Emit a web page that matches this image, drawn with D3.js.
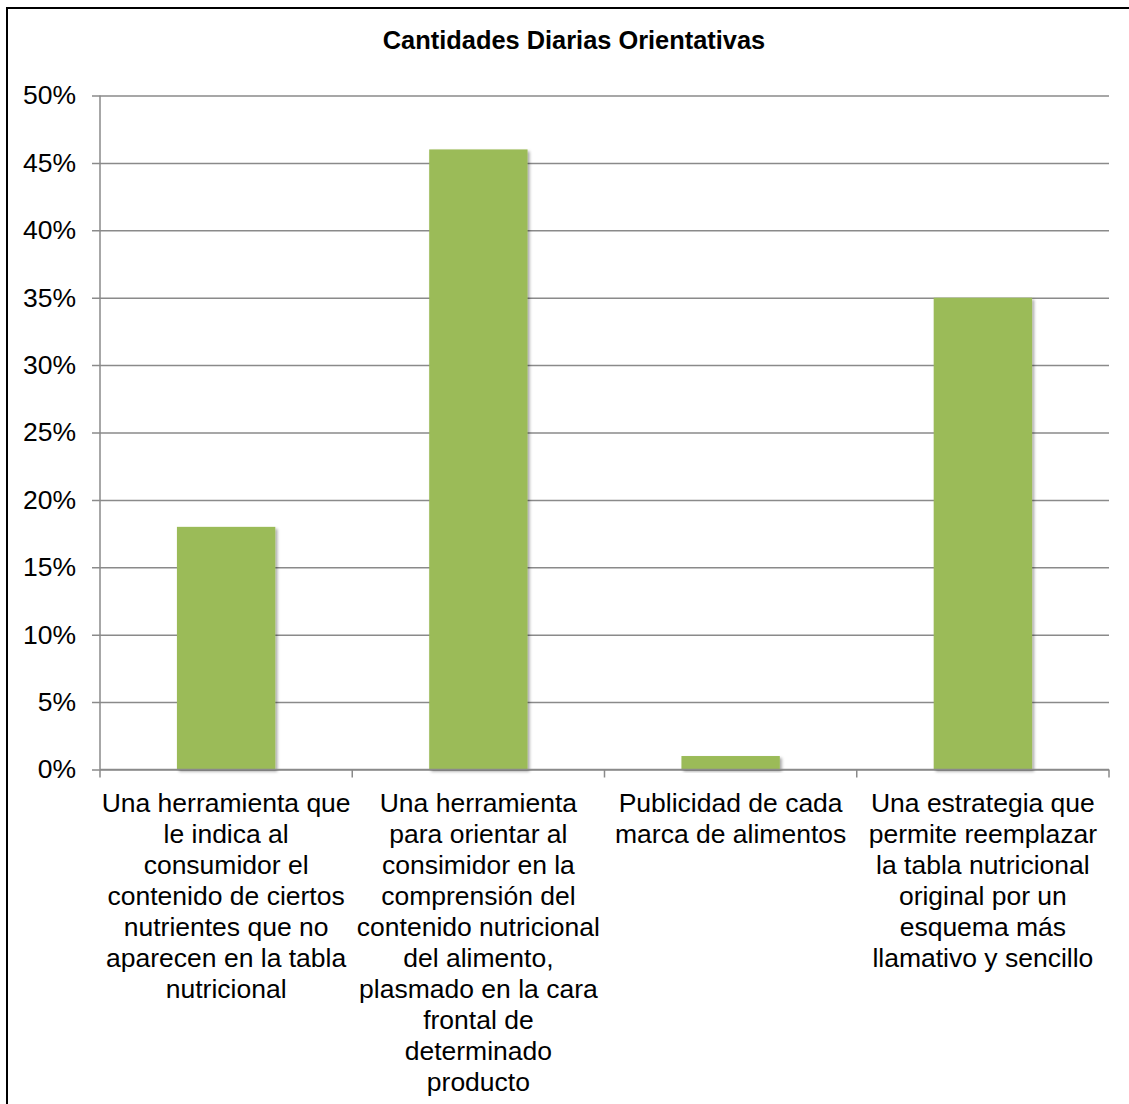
<!DOCTYPE html>
<html>
<head>
<meta charset="utf-8">
<script src="https://cdn.jsdelivr.net/npm/d3@7"></script>
<style>
  body { margin: 0; background: #fff; }
  text { font-family: "Liberation Sans", Arial, sans-serif; fill: #000; }
</style>
</head>
<body>
<div id="vis"></div>
<script>
// chart data
const CATEGORIES = ["c1", "c2", "c3", "c4"];
const VALUES = [0.18, 0.46, 0.01, 0.35];
const CATEGORY_LABELS = [
  ["Una herramienta que", "le indica al", "consumidor el", "contenido de ciertos", "nutrientes que no", "aparecen en la tabla", "nutricional"],
  ["Una herramienta", "para orientar al", "consimidor en la", "comprensión del", "contenido nutricional", "del alimento,", "plasmado en la cara", "frontal de", "determinado", "producto"],
  ["Publicidad de cada", "marca de alimentos"],
  ["Una estrategia que", "permite reemplazar", "la tabla nutricional", "original por un", "esquema más", "llamativo y sencillo"]
];
const Y_TICKS = [0, 0.05, 0.10, 0.15, 0.20, 0.25, 0.30, 0.35, 0.40, 0.45, 0.50];
const TITLE = "Cantidades Diarias Orientativas";

const FRAME_WIDTH = 1129;
const FRAME_HEIGHT = 1104;
const MARGINS = {left: 100, right: 20, top: 95.5, bottom: 334.5};

const VIS_WIDTH = FRAME_WIDTH - MARGINS.left - MARGINS.right;
const VIS_HEIGHT = FRAME_HEIGHT - MARGINS.top - MARGINS.bottom;

const FRAME = d3.select("#vis")
  .append("svg")
    .attr("width", FRAME_WIDTH)
    .attr("height", FRAME_HEIGHT);

// drop shadow for the bars
const defs = FRAME.append("defs");
defs.append("filter")
    .attr("id", "shadow")
    .attr("x", "-20%").attr("y", "-20%")
    .attr("width", "140%").attr("height", "140%")
  .append("feDropShadow")
    .attr("dx", 2).attr("dy", 2)
    .attr("stdDeviation", 1.8)
    .attr("flood-color", "#000")
    .attr("flood-opacity", 0.35);

// outer border (right and bottom edges fall outside the picture)
FRAME.append("rect")
  .attr("x", 7).attr("y", 8)
  .attr("width", FRAME_WIDTH + 10).attr("height", FRAME_HEIGHT + 10)
  .attr("fill", "none")
  .attr("stroke", "#000")
  .attr("stroke-width", 2);

// title
FRAME.append("text")
  .attr("x", 574)
  .attr("y", 49)
  .attr("text-anchor", "middle")
  .attr("font-size", "25.4px")
  .attr("font-weight", "bold")
  .text(TITLE);

const X_SCALE = d3.scaleBand()
  .domain(CATEGORIES)
  .range([0, VIS_WIDTH])
  .padding(0);

const Y_SCALE = d3.scaleLinear()
  .domain([0, 0.5])
  .range([VIS_HEIGHT, 0]);

const G = FRAME.append("g")
  .attr("transform", "translate(" + MARGINS.left + "," + MARGINS.top + ")");

// gridlines + y axis
const yAxis = G.append("g")
  .call(d3.axisLeft(Y_SCALE)
          .tickValues(Y_TICKS)
          .tickSize(-VIS_WIDTH)
          .tickPadding(24)
          .tickFormat(d3.format(".0%")));
yAxis.select(".domain").remove();
yAxis.selectAll(".tick line")
  .attr("x1", -8)
  .attr("stroke", "#8a8a8a")
  .attr("stroke-width", 1.5);
yAxis.selectAll(".tick text")
  .attr("font-size", "26.5px")
  .attr("font-family", "Liberation Sans, Arial, sans-serif")
  .attr("fill", "#000");

// y axis line
G.append("line")
  .attr("x1", 0).attr("x2", 0)
  .attr("y1", 0).attr("y2", VIS_HEIGHT)
  .attr("stroke", "#8a8a8a")
  .attr("stroke-width", 1.5);

// bars
const BAR_W = X_SCALE.bandwidth() * 0.39;
G.selectAll(".bar")
  .data(VALUES)
  .enter()
  .append("rect")
    .attr("class", "bar")
    .attr("x", (d, i) => X_SCALE(CATEGORIES[i]) + X_SCALE.bandwidth() / 2 - BAR_W / 2)
    .attr("y", d => Y_SCALE(d))
    .attr("width", BAR_W)
    .attr("height", d => VIS_HEIGHT - Y_SCALE(d))
    .attr("fill", "#9bbb59")
    .attr("filter", "url(#shadow)");

// x axis
const xAxis = G.append("g")
  .attr("transform", "translate(0," + VIS_HEIGHT + ")")
  .call(d3.axisBottom(X_SCALE).tickSize(0).tickFormat(""));
xAxis.select(".domain")
  .attr("stroke", "#8a8a8a")
  .attr("stroke-width", 1.5)
  .attr("d", "M0,0H" + VIS_WIDTH);

// category boundary ticks
const bounds = CATEGORIES.map(c => X_SCALE(c)).concat([VIS_WIDTH]);
xAxis.selectAll(".bound")
  .data(bounds)
  .enter()
  .append("line")
    .attr("x1", d => d).attr("x2", d => d)
    .attr("y1", 0).attr("y2", 8)
    .attr("stroke", "#8a8a8a")
    .attr("stroke-width", 1.5);

// wrapped category labels
const labels = G.selectAll(".catlabel")
  .data(CATEGORY_LABELS)
  .enter()
  .append("text")
    .attr("class", "catlabel")
    .attr("text-anchor", "middle")
    .attr("font-size", "26.5px")
    .attr("transform", (d, i) => "translate(" + (X_SCALE(CATEGORIES[i]) + X_SCALE.bandwidth() / 2) + "," + (VIS_HEIGHT + 42) + ")");

labels.selectAll("tspan")
  .data(d => d)
  .enter()
  .append("tspan")
    .attr("x", 0)
    .attr("y", (d, i) => i * 31)
    .text(d => d);
</script>
</body>
</html>
